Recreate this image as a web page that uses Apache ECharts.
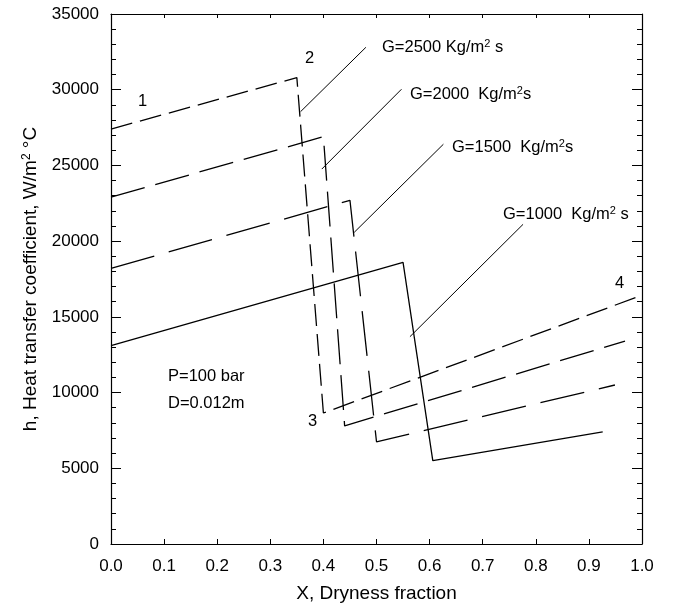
<!DOCTYPE html>
<html><head><meta charset="utf-8">
<script src="https://cdn.jsdelivr.net/npm/echarts@6/dist/echarts.min.js"></script>
<style>html,body{margin:0;padding:0;background:#fff}#c{width:673px;height:604px}</style>
</head><body><div id="c"></div>
<script>
// X (dryness fraction) and h (W/m2 C) for each mass flux curve
const g2500X = [0, 0.35, 0.40, 0.99];
const g2500H = [27400, 30800, 8650, 16300];
const g2000X = [0, 0.40, 0.44, 0.968];
const g2000H = [22900, 26900, 7800, 13400];
const g1500X = [0, 0.45, 0.50, 0.949];
const g1500H = [18200, 22700, 6750, 10500];
const g1000X = [0, 0.55, 0.606, 0.926];
const g1000H = [13100, 18600, 5500, 7400];
// leader lines to the curve labels
const lead2500X = [0.357, 0.480]; const lead2500H = [28550, 32800];
const lead2000X = [0.397, 0.547]; const lead2000H = [24760, 30030];
const lead1500X = [0.458, 0.626]; const lead1500H = [20580, 26400];
const lead1000X = [0.563, 0.776]; const lead1000H = [13690, 21110];

const FONT = '"Liberation Sans", Arial, Helvetica, sans-serif';
const zip = (xs, ys) => xs.map((x, i) => [x, ys[i]]);

function curve(name, xs, ys, type) {
  return { name, type: 'line', data: zip(xs, ys), symbol: 'none', silent: true,
    lineStyle: { color: '#000', width: 1.3, type: type } };
}
function leader(xs, ys) {
  return { type: 'line', data: zip(xs, ys), symbol: 'none', silent: true,
    lineStyle: { color: '#000', width: 1 } };
}

const sup = { fontSize: 11, fontFamily: FONT, color: '#000', padding: [0, 0, 7, 0] };
const base = { fontSize: 16.5, fontFamily: FONT, color: '#000' };
function txt(x, y, text) {
  return { type: 'text', left: x, top: y, style: { text: text, font: '16.5px ' + FONT, fill: '#000',
    rich: { n: base, sup: sup } } };
}

const chart = echarts.init(document.getElementById('c'));
const axLine = { show: true, onZero: false, lineStyle: { color: '#000', width: 1.2 } };
chart.setOption({
  animation: false,
  grid: { left: 111, right: 31, top: 14, bottom: 60, containLabel: false, outerBoundsMode: 'none' },
  xAxis: [
    { type: 'value', min: 0, max: 1, interval: 0.1, position: 'bottom',
      axisLine: axLine, splitLine: { show: false },
      axisTick: { inside: true, length: 5, lineStyle: { color: '#000' } },
      axisLabel: { formatter: v => v.toFixed(1), fontSize: 17, fontFamily: FONT, color: '#000', margin: 14 },
      name: 'X, Dryness fraction', nameLocation: 'middle', nameGap: 40,
      nameTextStyle: { fontSize: 19, fontFamily: FONT, color: '#000' } },
    { type: 'value', min: 0, max: 1, interval: 0.1, position: 'top',
      axisLine: axLine, splitLine: { show: false },
      axisTick: { inside: true, length: 4, lineStyle: { color: '#000' } },
      axisLabel: { show: false } }
  ],
  yAxis: [
    { type: 'value', min: 0, max: 35000, interval: 5000, position: 'left',
      axisLine: axLine, splitLine: { show: false },
      axisTick: { inside: true, length: 10, lineStyle: { color: '#000' } },
      minorTick: { show: true, splitNumber: 5, length: 5, lineStyle: { color: '#000' } },
      axisLabel: { formatter: v => String(v), fontSize: 17, fontFamily: FONT, color: '#000', margin: 12 },
      name: 'h, Heat transfer coefficient, W/m{sup|2} \u00b0C', nameLocation: 'middle', nameGap: 70,
      nameTextStyle: { fontSize: 19, fontFamily: FONT, color: '#000',
        rich: { sup: { fontSize: 12, fontFamily: FONT, color: '#000', padding: [0, 0, 8, 0] } } } },
    { type: 'value', min: 0, max: 35000, interval: 5000, position: 'right',
      axisLine: axLine, splitLine: { show: false },
      axisTick: { inside: true, length: 10, lineStyle: { color: '#000' } },
      minorTick: { show: true, splitNumber: 5, length: 5, lineStyle: { color: '#000' } },
      axisLabel: { show: false } }
  ],
  series: [
    curve('G=2500', g2500X, g2500H, [22, 8]),
    curve('G=2000', g2000X, g2000H, [35, 11]),
    curve('G=1500', g1500X, g1500H, [45, 15]),
    curve('G=1000', g1000X, g1000H, 'solid'),
    leader(lead2500X, lead2500H),
    leader(lead2000X, lead2000H),
    leader(lead1500X, lead1500H),
    leader(lead1000X, lead1000H)
  ],
  graphic: [
    txt(382, 38, 'G=2500 Kg/m{sup|2} s'),
    txt(410, 85, 'G=2000  Kg/m{sup|2}s'),
    txt(452, 138, 'G=1500  Kg/m{sup|2}s'),
    txt(503, 205, 'G=1000  Kg/m{sup|2} s'),
    txt(138, 93, '1'),
    txt(305, 50, '2'),
    txt(308, 413, '3'),
    txt(615, 275, '4'),
    txt(168, 368, 'P=100 bar'),
    txt(168, 395, 'D=0.012m')
  ]
});
</script></body></html>
